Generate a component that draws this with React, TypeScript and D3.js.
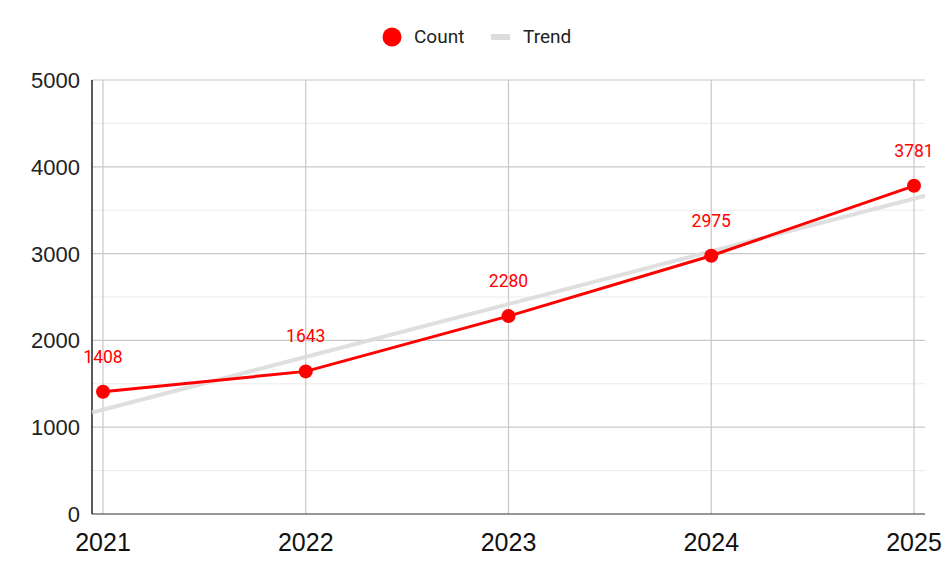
import React, { useEffect, useRef } from "react";
import * as d3 from "d3";

const years = [2021, 2022, 2023, 2024, 2025];
const counts = [1408, 1643, 2280, 2975, 3781];
const yTicks = [0, 1000, 2000, 3000, 4000, 5000];
const yMinorTicks = [500, 1500, 2500, 3500, 4500];

const W = 950;
const H = 569;

export default function App() {
  const ref = useRef<SVGSVGElement>(null);

  useEffect(() => {
    if (!ref.current) return;
    const svg = d3.select(ref.current);
    svg.selectAll("*").remove();

    const left = 92;
    const right = 925;
    const top = 80;
    const bottom = 514;

    const x = d3.scaleLinear().domain([2021, 2025]).range([103, 914]);
    const y = d3.scaleLinear().domain([0, 5000]).range([bottom, top]);

    // least squares trend over the counts
    const mx = d3.mean(years) as number;
    const my = d3.mean(counts) as number;
    const slope =
      d3.sum(years, (d, i) => (d - mx) * (counts[i] - my)) /
      d3.sum(years, (d) => (d - mx) * (d - mx));
    const trend = (t: number) => my + slope * (t - mx);

    const g = svg.append("g");

    // minor grid
    g.selectAll(".minor")
      .data(yMinorTicks)
      .join("line")
      .attr("x1", left)
      .attr("x2", right)
      .attr("y1", (d) => y(d))
      .attr("y2", (d) => y(d))
      .attr("stroke", "#ebebeb")
      .attr("stroke-width", 1);

    // major grid
    g.selectAll(".major")
      .data(yTicks.filter((d) => d > 0))
      .join("line")
      .attr("x1", left)
      .attr("x2", right)
      .attr("y1", (d) => y(d))
      .attr("y2", (d) => y(d))
      .attr("stroke", "#c8c8c8")
      .attr("stroke-width", 1.2);

    // vertical grid
    g.selectAll(".vgrid")
      .data(years)
      .join("line")
      .attr("x1", (d) => x(d))
      .attr("x2", (d) => x(d))
      .attr("y1", top)
      .attr("y2", bottom)
      .attr("stroke", "#c8c8c8")
      .attr("stroke-width", 1.2);

    // axes lines
    g.append("line")
      .attr("x1", left)
      .attr("x2", right)
      .attr("y1", bottom)
      .attr("y2", bottom)
      .attr("stroke", "#333")
      .attr("stroke-width", 1.2);
    g.append("line")
      .attr("x1", left)
      .attr("x2", left)
      .attr("y1", top)
      .attr("y2", bottom)
      .attr("stroke", "#222")
      .attr("stroke-width", 1.5);

    // y labels
    g.selectAll(".ylab")
      .data(yTicks)
      .join("text")
      .attr("x", 80)
      .attr("y", (d) => y(d))
      .attr("dy", "0.36em")
      .attr("text-anchor", "end")
      .attr("font-family", "Liberation Sans, Arial, sans-serif")
      .attr("font-size", 22)
      .attr("fill", "#222")
      .text((d) => String(d));

    // x labels
    g.selectAll(".xlab")
      .data(years)
      .join("text")
      .attr("x", (d) => x(d))
      .attr("y", 551)
      .attr("text-anchor", "middle")
      .attr("font-family", "Liberation Sans, Arial, sans-serif")
      .attr("font-size", 25)
      .attr("fill", "#111")
      .text((d) => String(d));

    // trend line
    const x0 = x.invert(left);
    const x1 = x.invert(right);
    g.append("line")
      .attr("x1", left)
      .attr("x2", right)
      .attr("y1", y(trend(x0)))
      .attr("y2", y(trend(x1)))
      .attr("stroke", "#dcdcdc")
      .attr("stroke-width", 4)
      .attr("stroke-opacity", 0.9);

    // count line
    const line = d3
      .line<number>()
      .x((_, i) => x(years[i]))
      .y((d) => y(d));
    g.append("path")
      .datum(counts)
      .attr("fill", "none")
      .attr("stroke", "#ff0000")
      .attr("stroke-width", 3)
      .attr("d", line);

    g.selectAll(".pt")
      .data(counts)
      .join("circle")
      .attr("cx", (_, i) => x(years[i]))
      .attr("cy", (d) => y(d))
      .attr("r", 7)
      .attr("fill", "#ff0000");

    g.selectAll(".dlab")
      .data(counts)
      .join("text")
      .attr("x", (_, i) => x(years[i]))
      .attr("y", (d) => y(d) - 29)
      .attr("text-anchor", "middle")
      .attr("font-family", "Roboto, sans-serif")
      .attr("font-size", 17.5)
      .attr("fill", "#ff0000")
      .text((d) => String(d));

    // legend
    const lg = svg.append("g");
    lg.append("circle").attr("cx", 392).attr("cy", 37).attr("r", 9.5).attr("fill", "#ff0000");
    lg.append("text")
      .attr("x", 414)
      .attr("y", 43)
      .attr("font-family", "Roboto, sans-serif")
      .attr("font-size", 19)
      .attr("fill", "#222")
      .text("Count");
    lg.append("rect")
      .attr("x", 491)
      .attr("y", 34)
      .attr("width", 19)
      .attr("height", 6)
      .attr("fill", "#dddddd");
    lg.append("text")
      .attr("x", 523)
      .attr("y", 43)
      .attr("font-family", "Roboto, sans-serif")
      .attr("font-size", 19)
      .attr("fill", "#222")
      .text("Trend");
  }, []);

  return (
    <svg
      ref={ref}
      width={W}
      height={H}
      style={{ position: "absolute", left: 0, top: 0, background: "#fff" }}
    />
  );
}
